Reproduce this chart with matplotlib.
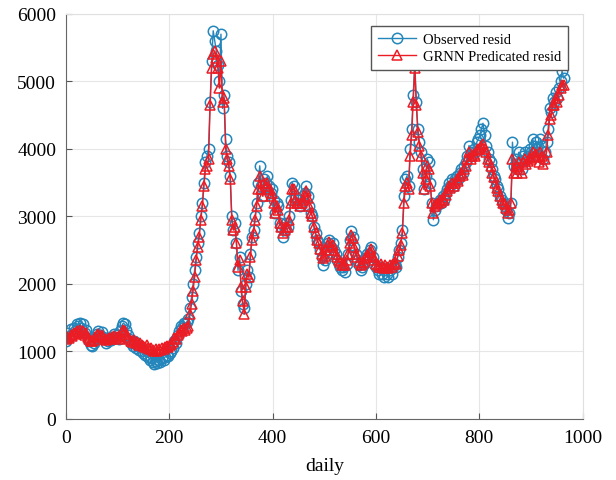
import numpy as np
import matplotlib.pyplot as plt

plt.rcParams['font.family'] = ['Liberation Serif', 'DejaVu Serif']

# 每隔3天读一个值 (day 0 .. 963)
days = np.arange(0, 964, 3)

observed = [
    1150, 1280, 1220, 1330, 1260, 1350, 1300, 1400, 1380, 1420,
    1350, 1400, 1280, 1320, 1200, 1150, 1100, 1080, 1120, 1200,
    1260, 1300, 1250, 1290, 1220, 1180, 1130, 1150, 1200, 1170,
    1220, 1260, 1200, 1240, 1180, 1300, 1380, 1420, 1400, 1320,
    1250, 1180, 1120, 1080, 1150, 1050, 1100, 1020, 1060, 1000,
    980, 950, 1000, 920, 880, 900, 850, 820, 860, 830,
    880, 850, 900, 870, 920, 950, 930, 980, 1000, 1050,
    1150, 1120, 1250, 1300, 1380, 1350, 1420, 1400, 1440, 1480,
    1650, 1800, 2000, 2200, 2400, 2600, 2750, 3000, 3200, 3500,
    3800, 3900, 4000, 4700, 5300, 5750, 5600, 5450, 5250, 5000,
    5700, 4600, 4800, 4150, 3900, 3800, 3600, 3000, 2800, 2900,
    2600, 2200, 2400, 1900, 1700, 1650, 2000, 2200, 2100, 2450,
    2700, 2800, 3000, 3200, 3500, 3750, 3450, 3300, 3550, 3500,
    3600, 3450, 3350, 3400, 3250, 3050, 3200, 3150, 2900, 2850,
    2700, 2800, 2900, 2850, 3000, 3250, 3500, 3450, 3300, 3200,
    3250, 3150, 3200, 3300, 3350, 3450, 3300, 3150, 3050, 3000,
    2850, 2750, 2650, 2600, 2500, 2400, 2280, 2350, 2500, 2600,
    2650, 2550, 2600, 2500, 2450, 2350, 2300, 2250, 2200, 2250,
    2180, 2300, 2450, 2650, 2780, 2700, 2550, 2450, 2350, 2280,
    2200, 2250, 2300, 2380, 2450, 2400, 2500, 2550, 2400, 2300,
    2250, 2200, 2150, 2250, 2150, 2100, 2200, 2150, 2100, 2200,
    2150, 2250, 2300, 2250, 2400, 2500, 2600, 2800, 3300, 3550,
    3600, 3450, 4000, 4300, 4800, 5300, 4700, 4300, 4100, 3950,
    3700, 3400, 3600, 3850, 3800, 3500, 3200, 2950, 3100, 3150,
    3200, 3250, 3200, 3300, 3250, 3350, 3400, 3500, 3450, 3550,
    3450, 3550, 3600, 3550, 3650, 3700, 3650, 3750, 3800, 3900,
    4050, 3900, 3950, 4000, 3950, 4100, 4150, 4200, 4300, 4380,
    4200, 4050, 3950, 3850, 3800, 3700, 3600, 3550, 3450, 3400,
    3300, 3250, 3200, 3150, 3100, 2980, 3050, 3200, 4100, 3750,
    3850, 3700, 3950, 3800, 3700, 3900, 3950, 3850, 3900, 4000,
    3950, 4150, 4050, 4100, 4000, 3900, 4150, 4050, 3850, 3950,
    4100, 4300, 4600, 4550, 4750, 4700, 4850, 4750, 4900, 5000,
    5150, 5050,
]

predicted = [
    1180, 1220, 1200, 1250, 1230, 1270, 1260, 1300, 1290, 1310,
    1280, 1300, 1250, 1270, 1210, 1190, 1160, 1150, 1170, 1210,
    1240, 1260, 1230, 1250, 1210, 1190, 1170, 1180, 1200, 1190,
    1210, 1230, 1200, 1220, 1190, 1250, 1290, 1310, 1300, 1260,
    1220, 1190, 1160, 1140, 1170, 1120, 1140, 1100, 1120, 1090,
    1080, 1060, 1090, 1050, 1030, 1050, 1020, 1000, 1030, 1010,
    1040, 1020, 1050, 1030, 1060, 1080, 1070, 1100, 1110, 1140,
    1200, 1180, 1250, 1280, 1320, 1300, 1340, 1320, 1350, 1380,
    1550, 1700, 1900, 2100, 2350, 2550, 2700, 2950, 3150, 3450,
    3700, 3750, 3850, 4650, 5200, 5400, 5450, 5350, 5200, 4900,
    5300, 4700, 4750, 4000, 3850, 3750, 3550, 2950, 2800, 2850,
    2600, 2250, 2350, 1950, 1750, 1550, 1950, 2150, 2100, 2400,
    2650, 2750, 2950, 3150, 3400, 3600, 3400, 3300, 3500, 3450,
    3500, 3400, 3300, 3350, 3200, 3050, 3150, 3100, 2900, 2850,
    2750, 2800, 2850, 2850, 2950, 3200, 3400, 3400, 3250, 3200,
    3200, 3150, 3200, 3250, 3300, 3380, 3280, 3150, 3050, 3000,
    2850, 2750, 2650, 2600, 2520, 2450, 2380, 2420, 2500, 2580,
    2620, 2550, 2580, 2500, 2450, 2400, 2350, 2320, 2280, 2300,
    2280, 2350, 2450, 2600, 2720, 2680, 2550, 2450, 2400, 2330,
    2280, 2300, 2330, 2380, 2430, 2400, 2480, 2520, 2420, 2350,
    2300, 2280, 2250, 2300, 2250, 2230, 2280, 2250, 2230, 2280,
    2250, 2300, 2330, 2300, 2420, 2500, 2580, 2750, 3200, 3450,
    3500, 3400, 3900, 4200, 4700, 5200, 4650, 4250, 4050, 3900,
    3650, 3400, 3550, 3750, 3700, 3450, 3200, 3050, 3150, 3180,
    3200, 3250, 3220, 3280, 3250, 3320, 3380, 3450, 3420, 3500,
    3450, 3500, 3550, 3520, 3600, 3650, 3620, 3700, 3750, 3850,
    3950, 3850, 3900, 3920, 3900, 3980, 4000, 4020, 4050, 4080,
    4000, 3950, 3850, 3800, 3750, 3650, 3580, 3500, 3420, 3380,
    3300, 3250, 3200, 3180, 3120, 3050, 3100, 3200, 3850, 3650,
    3750, 3650, 3800, 3700, 3650, 3800, 3850, 3780, 3820, 3880,
    3850, 3950, 3900, 3920, 3880, 3800, 3950, 3900, 3780, 3850,
    3950, 4200, 4450, 4500, 4650, 4650, 4750, 4700, 4800, 4900,
    4950, 4950,
]

fig = plt.figure(figsize=(6.16, 4.81), dpi=100)
ax = fig.add_axes([0.107, 0.127, 0.839, 0.842])

ax.plot(days, observed, color='#2486bb', lw=1, marker='o', ms=7.5,
        mfc='none', mew=1.1, label='Observed resid')
ax.plot(days, predicted, color='#ec1c24', lw=1, marker='^', ms=7.5,
        mfc='none', mew=1.1, label='GRNN Predicated resid')

ax.set_xlim(0, 1000)
ax.set_ylim(0, 6000)
ax.set_xticks(np.arange(0, 1001, 200))
ax.set_yticks(np.arange(0, 6001, 1000))
ax.set_xlabel('daily', fontsize=14, labelpad=8)
ax.tick_params(direction='in', labelsize=14, color='#555555', length=4, pad=7)
ax.grid(True, color='#e6e6e6', lw=0.8)
ax.set_axisbelow(True)
for s in ['left', 'bottom']:
    ax.spines[s].set_color('#666666')
for s in ['top', 'right']:
    ax.spines[s].set_color('#e0e0e0')

leg = ax.legend(loc='upper right', bbox_to_anchor=(0.971, 0.97), fontsize=10.5,
                fancybox=False, edgecolor='#555555', framealpha=1,
                borderpad=0.45, borderaxespad=0, handlelength=2.6,
                handletextpad=0.5, labelspacing=0.3)
leg.get_frame().set_linewidth(1)

fig.savefig('out.png', dpi=100)
